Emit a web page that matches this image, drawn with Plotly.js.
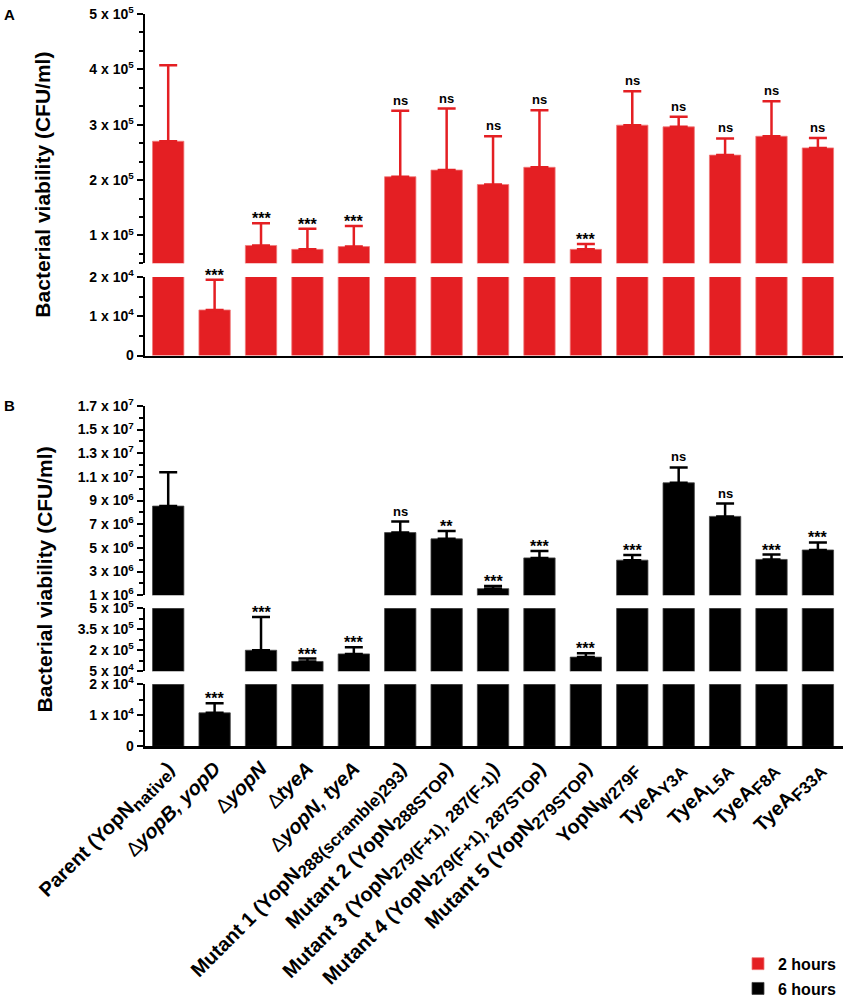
<!DOCTYPE html>
<html>
<head>
<meta charset="utf-8">
<script src="https://cdn.plot.ly/plotly-3.0.1.min.js"></script>
<style>html,body{margin:0;padding:0;background:#fff;}#chart{width:846px;height:1006px;}</style>
</head>
<body>
<div id="chart"></div>
<script>
// ---------- DATA ----------
const SUB = s => "<sub><span style=\"font-size:17px\">" + s + "</span></sub>";
const DELTA = "<span style=\"font-weight:normal\">∆</span>";
const categories = [
  "Parent (YopN" + SUB("native") + ")",
  DELTA + "<i>yopB, yopD</i>",
  DELTA + "<i>yopN</i>",
  DELTA + "<i>tyeA</i>",
  DELTA + "<i>yopN, tyeA</i>",
  "Mutant 1 (YopN" + SUB("288(scramble)293") + ")",
  "Mutant 2 (YopN" + SUB("288STOP") + ")",
  "Mutant 3 (YopN" + SUB("279(F+1), 287(F-1)") + ")",
  "Mutant 4 (YopN" + SUB("279(F+1), 287STOP") + ")",
  "Mutant 5 (YopN" + SUB("279STOP") + ")",
  "YopN" + SUB("W279F"),
  "TyeA" + SUB("Y3A"),
  "TyeA" + SUB("L5A"),
  "TyeA" + SUB("F8A"),
  "TyeA" + SUB("F33A")
];
// Panel A: 2 hours
const meanA = [2.70e5, 1.16e4, 8.2e4, 7.5e4, 8.0e4, 2.06e5, 2.18e5, 1.92e5, 2.23e5, 7.5e4, 2.99e5, 2.96e5, 2.45e5, 2.79e5, 2.58e5];
const errA  = [1.37e5, 7.7e3, 4.0e4, 3.7e4, 3.7e4, 1.19e5, 1.11e5, 8.7e4, 1.03e5, 9.6e3, 6.1e4, 1.8e4, 3.0e4, 6.3e4, 1.8e4];
const sigA  = ["", "***", "***", "***", "***", "ns", "ns", "ns", "ns", "***", "ns", "ns", "ns", "ns", "ns"];
// Panel B: 6 hours
const meanB = [8.53e6, 1.08e4, 2.0e5, 1.2e5, 1.74e5, 6.29e6, 5.76e6, 1.55e6, 4.15e6, 1.51e5, 3.96e6, 1.05e7, 7.66e6, 4.02e6, 4.82e6];
const errB  = [2.87e6, 3.1e3, 2.38e5, 2.1e4, 4.7e4, 9.3e5, 6.6e5, 2.2e5, 5.8e5, 2.8e4, 4.4e5, 1.3e6, 1.08e6, 4.1e5, 6.4e5];
const sigB  = ["", "***", "***", "***", "***", "ns", "**", "***", "***", "***", "***", "ns", "ns", "***", "***"];
const seriesNames = ["2 hours", "6 hours"];

// Axis segment tick definitions
const tickA_low_vals = [0, 1e4, 2e4];
const tickA_low_text = ["0", "1 x 10<sup>4</sup>", "2 x 10<sup>4</sup>"];
const tickA_low_minor = [5e3, 1.5e4];
const tickA_up_vals = [1e5, 2e5, 3e5, 4e5, 5e5];
const tickA_up_text = ["1 x 10<sup>5</sup>", "2 x 10<sup>5</sup>", "3 x 10<sup>5</sup>", "4 x 10<sup>5</sup>", "5 x 10<sup>5</sup>"];
const tickA_up_minor = [0.5e5, 0.6667e5, 1.3333e5, 1.6667e5, 2.3333e5, 2.6667e5, 3.3333e5, 3.6667e5, 4.3333e5, 4.6667e5];

const tickB_low_vals = [0, 1e4, 2e4];
const tickB_low_text = ["0", "1 x 10<sup>4</sup>", "2 x 10<sup>4</sup>"];
const tickB_low_minor = [5e3, 1.5e4];
const tickB_mid_vals = [5e4, 2e5, 3.5e5, 5e5];
const tickB_mid_text = ["5 x 10<sup>4</sup>", "2 x 10<sup>5</sup>", "3.5 x 10<sup>5</sup>", "5 x 10<sup>5</sup>"];
const tickB_mid_minor = [1.25e5, 2.75e5, 4.25e5];
const tickB_up_vals = [1e6, 3e6, 5e6, 7e6, 9e6, 1.1e7, 1.3e7, 1.5e7, 1.7e7];
const tickB_up_text = ["1 x 10<sup>6</sup>", "3 x 10<sup>6</sup>", "5 x 10<sup>6</sup>", "7 x 10<sup>6</sup>", "9 x 10<sup>6</sup>",
  "1.1 x 10<sup>7</sup>", "1.3 x 10<sup>7</sup>", "1.5 x 10<sup>7</sup>", "1.7 x 10<sup>7</sup>"];
const tickB_up_minor = [2e6, 4e6, 6e6, 8e6, 1e7, 1.2e7, 1.4e7, 1.6e7];

// ---------- STYLE ----------
const RED = "#e41f23";
const BLACK = "#000000";
const FONT = "Arial, 'Liberation Sans', Helvetica, sans-serif";
const H = 1006, W = 846;
const py = p => 1 - p / H;   // pixel row -> paper fraction
const xDomain = [145 / W, 842.5 / W];

const segA = [
  {ax: "y",  range: [0, 2e4],   dom: [py(362), py(282)], vals: tickA_low_vals, text: tickA_low_text, minor: tickA_low_minor},
  {ax: "y2", range: [5e4, 5e5], dom: [py(268), py(14)],  vals: tickA_up_vals,  text: tickA_up_text,  minor: tickA_up_minor}
];
const segB = [
  {ax: "y3", range: [0, 2e4],     dom: [py(760), py(696.7)], vals: tickB_low_vals, text: tickB_low_text, minor: tickB_low_minor},
  {ax: "y4", range: [5e4, 5e5],   dom: [py(683.5), py(619.3)], vals: tickB_mid_vals, text: tickB_mid_text, minor: tickB_mid_minor},
  {ax: "y5", range: [1e6, 1.7e7], dom: [py(606), py(413.3)], vals: tickB_up_vals, text: tickB_up_text, minor: tickB_up_minor}
];

const traces = [];
const annotations = [];
const layout = {
  width: W, height: H,
  margin: {l: 0, r: 0, t: 0, b: 0},
  paper_bgcolor: "#fff", plot_bgcolor: "rgba(0,0,0,0)",
  font: {family: FONT, color: "#000"},
  bargap: 0.325,
  showlegend: true,
  legend: {
    x: 738 / W, y: py(964), xanchor: "left", yanchor: "top",
    font: {family: FONT, size: 16, weight: "bold", color: "#000"},
    tracegroupgap: 1, bgcolor: "rgba(0,0,0,0)"
  },
  annotations: annotations
};

function yAxisDef(seg, xAnchor) {
  return {
    domain: seg.dom, range: seg.range, anchor: xAnchor,
    showline: true, linecolor: "#000", linewidth: 2.5,
    showgrid: false, zeroline: false, fixedrange: true,
    tickmode: "array", tickvals: seg.vals, ticktext: seg.text,
    ticks: "outside", ticklen: 6, tickwidth: 2, tickcolor: "#000",
    tickfont: {family: FONT, size: 14, weight: "bold", color: "#000"},
    minor: {tickmode: "array", tickvals: seg.minor, ticks: "outside", ticklen: 4, tickwidth: 2, tickcolor: "#000", showgrid: false}
  };
}

function buildPanel(segs, xName, mean, err, sig, color, name, group) {
  segs.forEach((seg, i) => {
    traces.push({
      type: "bar", x: categories, y: mean,
      xaxis: xName, yaxis: seg.ax,
      name: name, legendgroup: group, showlegend: i === 0,
      marker: {color: color, line: {color: color === RED ? "#f07a7a" : "#444", width: 0.8}},
      error_y: {type: "data", symmetric: false, array: err, arrayminus: mean.map(() => 0),
                color: color, thickness: 2.5, width: 9},
      hoverinfo: "skip"
    });
    const yKey = seg.ax === "y" ? "yaxis" : "yaxis" + seg.ax.slice(1);
    layout[yKey] = yAxisDef(seg, xName);
  });
  // significance labels, placed on the segment holding the error-bar top
  mean.forEach((m, k) => {
    if (!sig[k]) return;
    const top = m + err[k];
    const seg = segs.find(s => top >= s.range[0] && top <= s.range[1]) || segs[segs.length - 1];
    const stars = sig[k].indexOf("*") >= 0;
    annotations.push({
      x: k, y: top, xref: xName, yref: seg.ax,
      text: sig[k], showarrow: false, xanchor: "center", yanchor: "bottom",
      yshift: stars ? -6 : 1,
      font: {family: FONT, size: stars ? 16 : 13, weight: "bold", color: "#000"}
    });
  });
}

buildPanel(segA, "x", meanA, errA, sigA, RED, seriesNames[0], "g2");
buildPanel(segB, "x2", meanB, errB, sigB, BLACK, seriesNames[1], "g6");

layout.xaxis = {
  domain: xDomain, anchor: "y", type: "category", range: [-0.5, 14.53],
  showline: true, linecolor: "#000", linewidth: 2.5, ticks: "", showticklabels: false,
  showgrid: false, zeroline: false, fixedrange: true
};
layout.xaxis2 = {
  domain: xDomain, anchor: "y3", type: "category", range: [-0.5, 14.53],
  showline: true, linecolor: "#000", linewidth: 2.5, ticks: "", showticklabels: true,
  tickangle: -45, tickfont: {family: FONT, size: 20, weight: "bold", color: "#000"},
  showgrid: false, zeroline: false, fixedrange: true
};

// axis titles and panel letters
annotations.push({
  xref: "paper", yref: "paper", x: 43 / W, y: py(188), textangle: -90,
  text: "Bacterial viability (CFU/ml)", showarrow: false, xanchor: "center", yanchor: "middle",
  font: {family: FONT, size: 21, weight: "bold", color: "#000"}
});
annotations.push({
  xref: "paper", yref: "paper", x: 44 / W, y: py(590), textangle: -90,
  text: "Bacterial viability (CFU/ml)", showarrow: false, xanchor: "center", yanchor: "middle",
  font: {family: FONT, size: 21, weight: "bold", color: "#000"}
});
annotations.push({
  xref: "paper", yref: "paper", x: 2 / W, y: py(4), text: "A", showarrow: false,
  xanchor: "left", yanchor: "top", font: {family: FONT, size: 15, weight: "bold", color: "#000"}
});
annotations.push({
  xref: "paper", yref: "paper", x: 2 / W, y: py(402), text: "B", showarrow: false,
  xanchor: "left", yanchor: "top", font: {family: FONT, size: 15, weight: "bold", color: "#000"}
});

Plotly.newPlot("chart", traces, layout, {displayModeBar: false, staticPlot: true});
</script>
</body>
</html>
